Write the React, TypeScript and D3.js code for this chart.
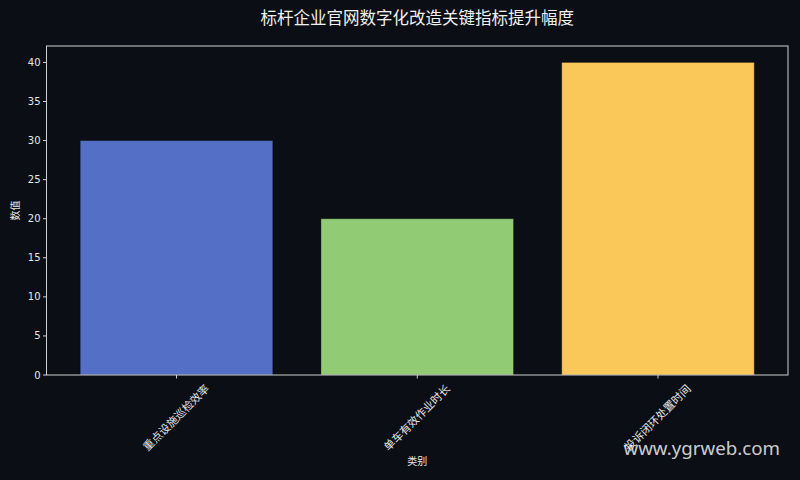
import React from "react";
import * as d3 from "d3";

const categories = ["重点设施巡检效率", "单车有效作业时长", "投诉闭环处置时间"];
const values = [30, 20, 40];
const colors = ["#5470c6", "#91cc75", "#fac858"];
const yTicks = [0, 5, 10, 15, 20, 25, 30, 35, 40];

const W = 800;
const H = 480;
const BG = "#0b0e14";
const FONT = "'DejaVu Sans', 'Noto Sans CJK SC', sans-serif";

export default function App() {
  const left = 46.5;
  const right = 788;
  const top = 46;
  const bottom = 375;

  // matplotlib-like band positions: bars width 0.8, 5% margin
  const x = d3.scaleLinear().domain([-0.54, categories.length - 1 + 0.54]).range([left, right]);
  const y = d3.scaleLinear().domain([0, 42.1]).range([bottom, top]);
  const barW = x(0.8) - x(0);

  return (
    <div style={{ position: "fixed", inset: 0, background: BG }}>
      <svg width={W} height={H} style={{ display: "block" }}>
        <rect width={W} height={H} fill={BG} />

        <text x={(left + right) / 2} y={24} textAnchor="middle" fill="#f0f0f0"
          style={{ fontFamily: FONT, fontSize: 16.5 }}>
          标杆企业官网数字化改造关键指标提升幅度
        </text>

        {values.map((v, i) => (
          <rect key={i} x={x(i) - barW / 2} y={y(v)} width={barW} height={y(0) - y(v)}
            fill={colors[i]} stroke="#000" strokeOpacity={0.35} strokeWidth={1} />
        ))}

        <rect x={left} y={top} width={right - left} height={bottom - top}
          fill="none" stroke="#cfcfcf" strokeWidth={1} />

        {yTicks.map((t) => (
          <g key={t} transform={`translate(0,${y(t)})`}>
            <line x1={left - 3.5} x2={left} stroke="#cfcfcf" />
            <text x={left - 6} dy="0.35em" textAnchor="end" fill="#e6e6e6"
              style={{ fontFamily: FONT, fontSize: 10 }}>{t}</text>
          </g>
        ))}

        {categories.map((c, i) => (
          <g key={c}>
            <line x1={x(i)} x2={x(i)} y1={bottom} y2={bottom + 3.5} stroke="#cfcfcf" />
            <text transform={`translate(${x(i)},${bottom + 43}) rotate(-45)`} textAnchor="middle"
              dominantBaseline="central" fill="#e6e6e6" style={{ fontFamily: FONT, fontSize: 11 }}>
              {c}
            </text>
          </g>
        ))}

        <text x={(left + right) / 2} y={465} textAnchor="middle" fill="#e6e6e6"
          style={{ fontFamily: FONT, fontSize: 10 }}>类别</text>
        <text transform={`translate(19,${(top + bottom) / 2}) rotate(-90)`} textAnchor="middle"
          fill="#e6e6e6" style={{ fontFamily: FONT, fontSize: 10 }}>数值</text>

        <text x={780} y={455} textAnchor="end" fill="#ffffff" fillOpacity={0.8}
          style={{ fontFamily: "'Noto Sans', 'DejaVu Sans', sans-serif", fontSize: 18.7 }}>
          www.ygrweb.com
        </text>
      </svg>
    </div>
  );
}
